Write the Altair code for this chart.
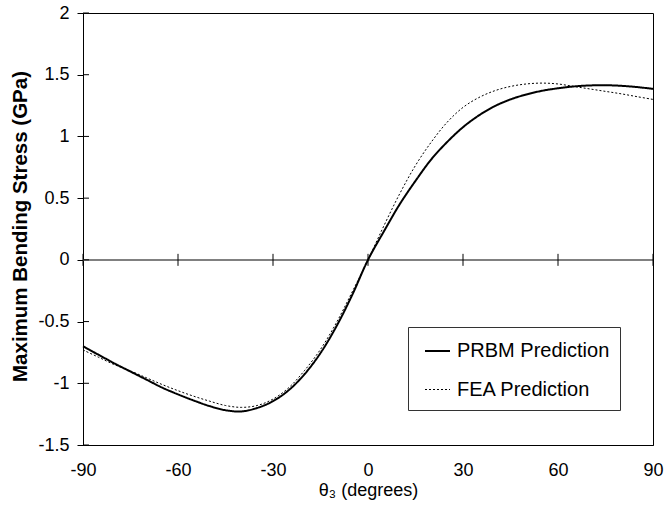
import altair as alt
import pandas as pd

theta = [-90, -85, -80, -75, -70, -65, -60, -55, -50, -45, -40, -35, -30, -25, -20, -15, -10, -5,
         0, 5, 10, 15, 20, 25, 30, 35, 40, 45, 50, 55, 60, 65, 70, 75, 80, 85, 90]
prbm = [-0.70, -0.77, -0.84, -0.905, -0.97, -1.035, -1.09, -1.14, -1.185, -1.218, -1.228, -1.20,
        -1.145, -1.055, -0.925, -0.755, -0.54, -0.285,
        0.0, 0.23, 0.45, 0.64, 0.815, 0.955, 1.075, 1.17, 1.245, 1.30, 1.34, 1.37, 1.39, 1.405,
        1.413, 1.415, 1.41, 1.40, 1.385]
fea = [-0.73, -0.79, -0.85, -0.90, -0.955, -1.01, -1.06, -1.105, -1.145, -1.18, -1.195, -1.18,
       -1.128, -1.035, -0.895, -0.725, -0.51, -0.26,
       0.0, 0.275, 0.535, 0.765, 0.955, 1.115, 1.235, 1.315, 1.37, 1.405, 1.425, 1.432, 1.425, 1.405,
       1.385, 1.365, 1.345, 1.322, 1.30]
series = ["PRBM Prediction", "FEA Prediction"]
x_ticks = [-90, -60, -30, 0, 30, 60, 90]
y_ticks = [-1.5, -1, -0.5, 0, 0.5, 1, 1.5, 2]

FONT = "Liberation Sans"

df = pd.concat([
    pd.DataFrame({"theta": theta, "stress": prbm, "series": series[0]}),
    pd.DataFrame({"theta": theta, "stress": fea, "series": series[1]}),
])
xt = pd.DataFrame({"t": x_ticks})
yt = pd.DataFrame({"v": y_ticks})

xscale = alt.Scale(domain=[-90, 90], nice=False, zero=False)
yscale = alt.Scale(domain=[-1.5, 2], nice=False, zero=False)

legend = alt.Legend(
    title=None, orient="none", legendX=325, legendY=314,
    fillColor="white", strokeColor="#333333", padding=10.5, cornerRadius=0,
    symbolType="stroke", symbolSize=625, symbolOffset=5.5, symbolStrokeColor="black",
    labelFont=FONT, labelFontSize=20, labelColor="black", labelOffset=6, rowPadding=15,
)

zero_line = alt.Chart(xt).mark_rule(color="#808080", strokeWidth=1.5).encode(
    y=alt.datum(0, scale=yscale)
)

x_tick_marks = alt.Chart(xt).mark_rule(color="black", strokeWidth=1, yOffset=-6, y2Offset=6).encode(
    x=alt.X("t:Q", scale=xscale),
    y=alt.datum(0),
    y2=alt.datum(0),
)

y_tick_marks = alt.Chart(yt).mark_rule(color="black", strokeWidth=1, x2Offset=6).encode(
    y=alt.Y("v:Q", scale=yscale),
    x=alt.datum(-90),
    x2=alt.datum(-90),
)

lines = alt.Chart(df).mark_line(interpolate="catmull-rom", color="black").encode(
    x=alt.X("theta:Q", scale=xscale,
            axis=alt.Axis(values=x_ticks, ticks=False, tickSize=0, labelPadding=16, grid=False,
                          labelFlush=False, labelExpr="'' + datum.value",
                          title="θ₃ (degrees)", titleFontWeight="normal", titleFontSize=18,
                          titleFont=FONT, titleX=285, titleY=45, titleBaseline="middle",
                          titleColor="black")),
    y=alt.Y("stress:Q", scale=yscale,
            axis=alt.Axis(values=y_ticks, tickSize=6, labelPadding=8, grid=False,
                          labelFlush=False, labelExpr="'' + datum.value",
                          title="Maximum Bending Stress (GPa)", titleFontWeight="bold",
                          titleFontSize=20.5, titleFont=FONT, titleX=-63, titleY=213,
                          titleBaseline="middle", titleAlign="center", titleColor="black")),
    strokeDash=alt.StrokeDash("series:N", scale=alt.Scale(domain=series, range=[[1, 0], [2, 2]]),
                              legend=legend),
    strokeWidth=alt.StrokeWidth("series:N", scale=alt.Scale(domain=series, range=[2, 1]),
                                legend=legend),
)

chart = alt.layer(zero_line, x_tick_marks, y_tick_marks, lines).properties(
    width=570, height=432,
    autosize=alt.AutoSizeParams(type="none"),
    padding={"left": 83, "top": 13, "right": 12, "bottom": 60},
    background="white",
).configure_view(
    stroke="black", strokeWidth=1
).configure_axis(
    domainColor="black", domainWidth=1, tickColor="black", tickWidth=1,
    labelFont=FONT, labelFontSize=18, labelColor="black",
)

chart.save("out.html", embed_options={"renderer": "svg", "actions": False})
